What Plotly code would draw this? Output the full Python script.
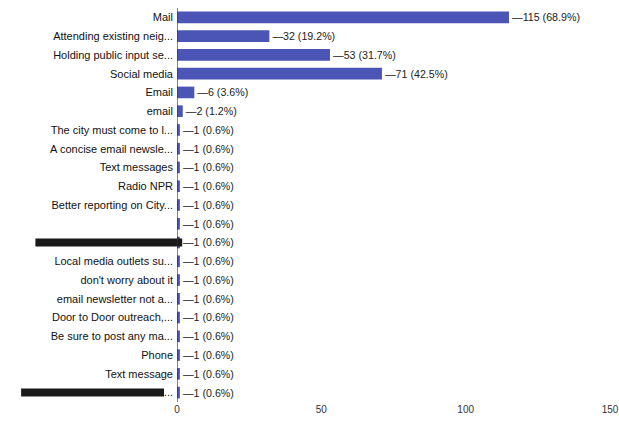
import plotly.graph_objects as go

# Responses per contact channel (top to bottom as listed); multi-select question
labels = [
    "Mail",
    "Attending existing neig...",
    "Holding public input se...",
    "Social media",
    "Email",
    "email",
    "The city must come to l...",
    "A concise email newsle...",
    "Text messages",
    "Radio NPR",
    "Better reporting on City...",
    "",
    "",
    "Local media outlets su...",
    "don't worry about it",
    "email newsletter not a...",
    "Door to Door outreach,...",
    "Be sure to post any ma...",
    "Phone",
    "Text message",
    "...",
]
counts = [115, 32, 53, 71, 6, 2, 1, 1, 1, 1, 1, 1, 1, 1, 1, 1, 1, 1, 1, 1, 1]
respondents = 167
redacted_rows = [12, 20]
x_ticks = [0, 50, 100, 150]

pct = [f"{c / respondents * 100:.1f}%" for c in counts]
rows = list(range(len(labels)))

BAR = "#4b55b5"
FONT = "Liberation Sans, Arial, sans-serif"

fig = go.Figure(
    go.Bar(
        x=counts,
        y=rows,
        orientation="h",
        marker=dict(color=BAR, line=dict(width=0)),
        width=0.62,
        customdata=pct,
        text=[f"\u2014{c} ({p})" for c, p in zip(counts, pct)],
        textposition="outside",
        textfont=dict(family=FONT, size=11, color="#222222"),
        cliponaxis=False,
        hovertemplate="%{x} (%{customdata})<extra></extra>",
    )
)

# Blacked-out answer labels
for r, (x0, x1) in zip(redacted_rows, [(-0.327, 0.012), (-0.36, -0.03)]):
    fig.add_shape(
        type="line",
        xref="paper", yref="y",
        x0=x0, x1=x1, y0=r, y1=r,
        line=dict(color="#1a1a1a", width=8),
        layer="above",
    )

fig.update_layout(
    width=619,
    height=422,
    margin=dict(l=177, r=9, t=8, b=20),
    paper_bgcolor="white",
    plot_bgcolor="white",
    showlegend=False,
    font=dict(family=FONT, size=11, color="#222222"),
    xaxis=dict(
        range=[0, 150],
        tickvals=x_ticks,
        ticktext=[str(t) for t in x_ticks],
        showgrid=False,
        zeroline=False,
        showline=False,
        ticks="",
        automargin=False,
        tickfont=dict(size=10, color="#333333"),
    ),
    yaxis=dict(
        range=[len(labels) - 0.5, -0.5],
        tickvals=rows,
        ticktext=labels,
        showgrid=False,
        zeroline=False,
        showline=False,
        ticks="",
        automargin=False,
        ticklabelstandoff=3,
        tickfont=dict(size=11, color="#111111"),
    ),
)

# Baseline at zero
fig.add_shape(
    type="line", xref="x", yref="paper",
    x0=0, x1=0, y0=0, y1=1,
    line=dict(color="#333333", width=1.2),
)

fig.write_html("out.html")
